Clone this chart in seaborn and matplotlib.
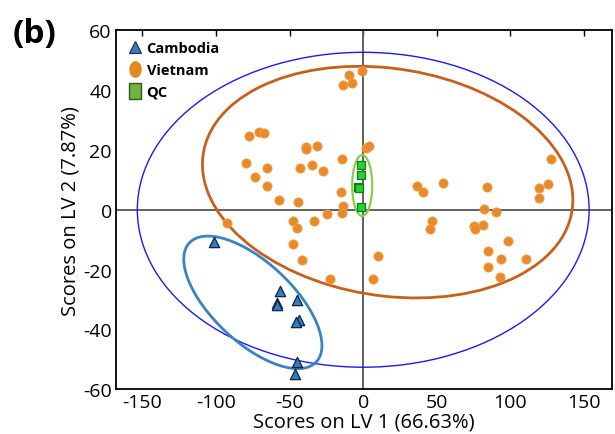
import numpy as np
import pandas as pd
import matplotlib
matplotlib.use("Agg")
import matplotlib.pyplot as plt
from matplotlib.patches import Ellipse
from matplotlib.lines import Line2D
from matplotlib.markers import MarkerStyle
from matplotlib.transforms import Affine2D
import seaborn as sns

# PLS-DA scores (LV1, LV2)
cambodia_lv1 = [-101.2, -56.8, -58.6, -58.6, -44.8, -43.7, -45.5, -44.8, -46.4]
cambodia_lv2 = [-10.9, -27.3, -31.3, -31.9, -30.1, -36.9, -37.6, -51.0, -54.9]

vietnam_lv1 = [-77.4, -70.7, -67.5, -39.1, -38.7, -31.7, 1.8, -79.5, -65.6, -42.8,
               -34.9, -27.2, -14.5, -73.6, -65.2, -57.1, -44.4, -14.9, -14.0, -14.5,
               -24.7, -33.5, -47.6, -44.8, -92.8, -47.6, -41.4, -22.6, 6.4, 9.8,
               -0.7, -9.5, -14.0, -7.9, 3.6,
               36.7, 40.3, 53.9, 46.9, 45.1, 84.3, 82.4, 90.1, 75.0, 76.1,
               81.5, 98.1, 84.5, 93.5, 110.7, 84.7, 93.1, 127.3, 125.5, 119.2, 119.2]
vietnam_lv2 = [24.6, 26.1, 25.8, 21.1, 20.5, 21.4, 20.7, 15.7, 13.9, 13.9,
               15.1, 12.9, 17.0, 10.8, 7.8, 3.4, 2.7, 5.8, 1.1, -1.2,
               -1.5, -3.9, -3.6, -6.2, -4.4, -11.5, -16.8, -23.3, -23.3, -15.4,
               46.3, 45.2, 41.9, 42.4, 21.2,
               8.0, 5.9, 9.1, -3.8, -6.6, 7.6, 0.1, -0.6, -5.3, -6.6,
               -5.2, -10.3, -13.7, -16.4, -16.4, -19.3, -22.6, 17.1, 8.6, 7.3, 3.9]

qc_lv1 = [-1.4, -1.4, -3.4, -2.8, -1.4]
qc_lv2 = [15.1, 11.8, 7.6, 7.2, 0.9]

group_names = ["Cambodia", "Vietnam", "QC"]

# Confidence ellipses: (centre x, centre y, width, height, angle in degrees)
ellipse_all = (0.0, 0.0, 307.0, 105.4, 0.0)
ellipse_vietnam = (16.6, 9.25, 252.0, 76.5, -3.0)
ellipse_cambodia = (-75.0, -31.0, 98.8, 32.0, -19.2)
ellipse_qc = (-0.7, 8.1, 13.6, 20.4, 0.0)

x_ticks = [-150, -100, -50, 0, 50, 100, 150]
y_ticks = [-60, -40, -20, 0, 20, 40, 60]

sns.set_theme(style="white")
plt.rcParams["font.family"] = ["Open Sans", "DejaVu Sans"]
plt.rcParams["axes.unicode_minus"] = False
plt.rcParams["text.color"] = "black"
plt.rcParams["axes.labelcolor"] = "black"
plt.rcParams["xtick.color"] = "black"
plt.rcParams["ytick.color"] = "black"

df = pd.concat([
    pd.DataFrame({"LV1": cambodia_lv1, "LV2": cambodia_lv2, "Group": group_names[0]}),
    pd.DataFrame({"LV1": vietnam_lv1, "LV2": vietnam_lv2, "Group": group_names[1]}),
    pd.DataFrame({"LV1": qc_lv1, "LV2": qc_lv2, "Group": group_names[2]}),
], ignore_index=True)

fig = plt.figure(figsize=(6.15, 4.35), dpi=100)
ax = fig.add_axes([0.1886, 0.1034, 0.8064, 0.8242])

# zero lines
ax.axhline(0, color="#606060", lw=1.4, zorder=1)
ax.axvline(0, color="#606060", lw=1.4, zorder=1)

c_camb = "#2E7CC4"
c_viet = "#E8892B"
c_qc = "#22D22E"

sns.scatterplot(data=df[df.Group == "Vietnam"], x="LV1", y="LV2", ax=ax,
                marker="o", s=44, color=c_viet, edgecolor="#F0A040",
                linewidth=0.6, zorder=3, legend=False)
sns.scatterplot(data=df[df.Group == "Cambodia"], x="LV1", y="LV2", ax=ax,
                marker="^", s=55, color=c_camb, edgecolor="#10243A",
                linewidth=0.9, zorder=4, legend=False)
sns.scatterplot(data=df[df.Group == "QC"], x="LV1", y="LV2", ax=ax,
                marker="s", s=40, color=c_qc, edgecolor="#157A1A",
                linewidth=0.9, zorder=4, legend=False)

def add_ellipse(p, color, lw):
    cx, cy, w, h, ang = p
    ax.add_patch(Ellipse((cx, cy), w, h, angle=ang, fill=False,
                         edgecolor=color, lw=lw, zorder=2))

add_ellipse(ellipse_all, "#1A1AF5", 1.0)
add_ellipse(ellipse_vietnam, "#C8601C", 2.0)
add_ellipse(ellipse_cambodia, "#3983C2", 2.0)
add_ellipse(ellipse_qc, "#8CCB4E", 1.6)

ax.set_xlim(-168, 169)
ax.set_ylim(-60, 60)
ax.set_xticks(x_ticks)
ax.set_yticks(y_ticks)
ax.tick_params(direction="in", length=4, width=1, top=True, right=False,
               labelsize=14, pad=3)
for s in ax.spines.values():
    s.set_color("black")
    s.set_linewidth(1.3)

ax.set_xlabel("Scores on LV 1 (66.63%)", fontsize=14.5, labelpad=0)
ax.set_ylabel("Scores on LV 2 (7.87%)", fontsize=14.5, labelpad=2)

oval = MarkerStyle("o", transform=Affine2D().scale(0.72, 1.0))
handles = [
    Line2D([], [], ls="", marker="^", markersize=8, markerfacecolor="#3C78C0",
           markeredgecolor="#1A2A40", markeredgewidth=0.8),
    Line2D([], [], ls="", marker=oval, markersize=11, markerfacecolor="#E8861E",
           markeredgecolor="#E8861E"),
    Line2D([], [], ls="", marker=MarkerStyle("s", transform=Affine2D().scale(0.75, 1.0)),
           markersize=11, markerfacecolor="#6FB43C", markeredgecolor="#2E5A1A",
           markeredgewidth=1.0),
]
ax.legend(handles, group_names, loc="upper left", frameon=False,
          prop={"size": 10.5, "weight": "bold"}, handletextpad=0.2,
          labelspacing=0.55, borderaxespad=0.3, handlelength=1.2,
          bbox_to_anchor=(0.0, 1.0))

fig.text(0.02, 0.92, "(b)", fontsize=24, fontweight="bold", va="center", ha="left")

fig.savefig("out.png", dpi=100)
